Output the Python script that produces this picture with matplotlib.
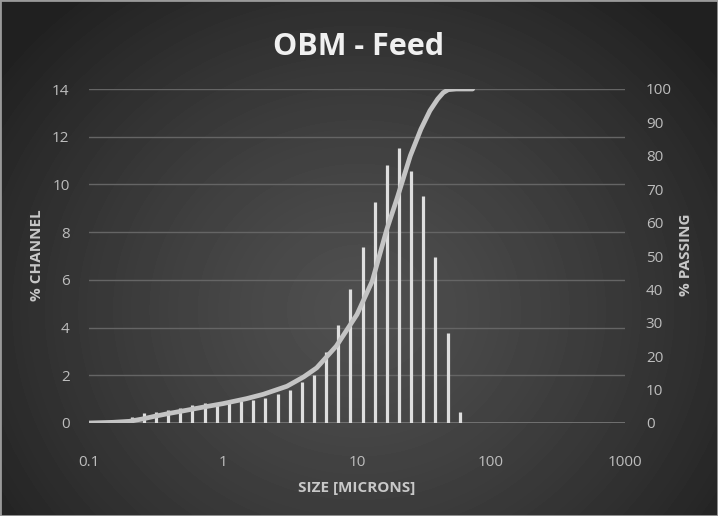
import numpy as np
import matplotlib
matplotlib.use("Agg")
import matplotlib.pyplot as plt
from matplotlib.ticker import FixedLocator, NullLocator, FixedFormatter
from matplotlib.patches import Rectangle

# ---------------- data ----------------
sizes = [0.208, 0.257, 0.317, 0.390, 0.480, 0.592, 0.730, 0.899, 1.107, 1.364,
         1.681, 2.072, 2.553, 3.145, 3.875, 4.775, 5.884, 7.250, 8.933, 11.00,
         13.56, 16.71, 20.59, 25.37, 31.25, 38.51, 47.45, 58.46]
channel = [0.24, 0.41, 0.47, 0.54, 0.64, 0.75, 0.82, 0.85, 0.88, 0.92,
           0.98, 1.05, 1.20, 1.40, 1.70, 2.00, 2.99, 4.10, 5.62, 7.39,
           9.28, 10.81, 11.51, 10.55, 9.50, 6.97, 3.79, 0.47]

passing_size = [0.1, 0.15, 0.2, 0.25, 0.3, 0.4, 0.5, 0.7, 1.0, 1.5, 2.0, 3.0,
                4.0, 5.0, 7.0, 10.0, 13.0, 16.7, 20.0, 25.0, 30.0, 35.0, 40.0,
                44.0, 48.0, 55.0, 73.0]
passing = [0.0, 0.2, 0.5, 1.2, 1.9, 2.9, 3.6, 4.7, 5.8, 7.3, 8.6, 11.0,
           13.8, 16.5, 23.0, 32.5, 42.5, 58.0, 67.5, 80.0, 88.0, 93.5, 97.0,
           98.9, 99.8, 100.0, 100.0]

x_ticks = [0.1, 1, 10, 100, 1000]
x_tick_labels = ["0.1", "1", "10", "100", "1000"]
left_ticks = [0, 2, 4, 6, 8, 10, 12, 14]
right_ticks = [0, 10, 20, 30, 40, 50, 60, 70, 80, 90, 100]

title = "OBM - Feed"
x_label = "SIZE [MICRONS]"
left_label = "% CHANNEL"
right_label = "% PASSING"

# ---------------- style ----------------
FONT = ["Open Sans", "DejaVu Sans"]
plt.rcParams["font.family"] = FONT
tick_col = "#bdbdbd"
grid_col = "#656565"

W, H = 718, 516
fig = plt.figure(figsize=(W / 100, H / 100), dpi=100)

# radial gradient background
bg = fig.add_axes([0, 0, 1, 1], zorder=-10)
yy, xx = np.mgrid[0:H, 0:W]
cx, cy = 0.5 * W, 0.6 * H
r = np.sqrt(((xx - cx) / (0.62 * W)) ** 2 + ((yy - cy) / (0.78 * H)) ** 2)
r = np.clip(r, 0, 1)
val = 0.31 - (0.31 - 0.13) * r ** 1.3
bg.imshow(val, cmap="gray", vmin=0, vmax=1, aspect="auto",
          extent=[0, 1, 0, 1], origin="upper", interpolation="bilinear")
bg.set_axis_off()
fig.patches.append(Rectangle((0, 0), 1, 1, transform=fig.transFigure,
                             fill=False, edgecolor="#9a9a9a", linewidth=2.0))

ax = fig.add_axes([89 / W, 1 - 423 / H, (625 - 89) / W, (423 - 89) / H])
ax.patch.set_alpha(0)
ax.set_xscale("log")
ax.set_xlim(0.1, 1000)
ax.set_ylim(0, 14)

for yv in left_ticks[1:]:
    ax.axhline(yv, color=grid_col, lw=1.0, zorder=0)
ax.axhline(0, color="#7a7a7a", lw=1.2, zorder=0)

ax.vlines(sizes, 0, channel, colors="#dedede", linewidth=2.3, zorder=2)

ax.xaxis.set_major_locator(FixedLocator(x_ticks))
ax.xaxis.set_major_formatter(FixedFormatter(x_tick_labels))
ax.xaxis.set_minor_locator(NullLocator())
ax.yaxis.set_major_locator(FixedLocator(left_ticks))
for s in ax.spines.values():
    s.set_visible(False)
ax.tick_params(axis="x", length=0, pad=23, labelsize=11, labelcolor=tick_col)
ax.tick_params(axis="y", length=0, pad=14, labelsize=11, labelcolor=tick_col)

ax2 = ax.twinx()
ax2.set_ylim(0, 100)
ax2.yaxis.set_major_locator(FixedLocator(right_ticks))
for s in ax2.spines.values():
    s.set_visible(False)
ax2.tick_params(axis="y", length=0, pad=15, labelsize=11, labelcolor=tick_col)
ax2.plot(passing_size, passing, color="#c4c4c4", lw=3.4,
         solid_joinstyle="round", solid_capstyle="round", zorder=3)

fig.text(0.5, 1 - 47 / H, title, ha="center", va="center", fontsize=22,
         fontweight="bold", color="#f0f0f0", family=FONT)
fig.text(357 / W, 1 - 488 / H, x_label, ha="center", va="center",
         fontsize=11, fontweight="bold", color="#c8c8c8", family=FONT)
fig.text(37 / W, 1 - 255 / H, left_label, ha="center", va="center",
         rotation=90, fontsize=11, fontweight="bold", color="#c8c8c8",
         family=FONT)
fig.text(686 / W, 1 - 255 / H, right_label, ha="center", va="center",
         rotation=90, fontsize=11, fontweight="bold", color="#c8c8c8",
         family=FONT)

fig.savefig("out.png", dpi=100)
